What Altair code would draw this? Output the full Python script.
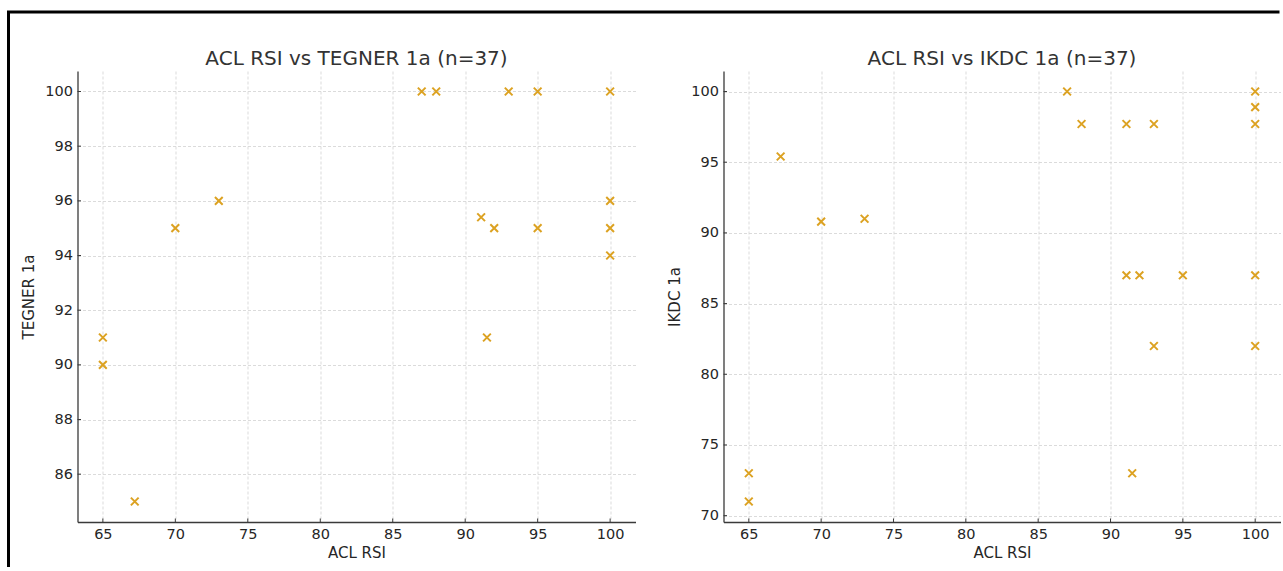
import altair as alt
import pandas as pd

# ---------------- data ----------------
acl_tegner = [87, 88, 93, 95, 100, 73, 70, 91.1, 92, 95, 100, 100, 100, 65, 65, 67.2, 91.5]
tegner = [100, 100, 100, 100, 100, 96, 95, 95.4, 95, 95, 96, 95, 94, 91, 90, 85, 91]

acl_ikdc = [87, 88, 91.1, 93, 100, 100, 100, 67.2, 70, 73, 91.1, 92, 95, 100, 93, 100, 65, 65, 91.5]
ikdc = [100, 97.7, 97.7, 97.7, 100, 98.9, 97.7, 95.4, 90.8, 91, 87, 87, 87, 87, 82, 82, 73, 71, 73]

x_ticks = [65, 70, 75, 80, 85, 90, 95, 100]
tegner_ticks = [86, 88, 90, 92, 94, 96, 98, 100]
ikdc_ticks = [70, 75, 80, 85, 90, 95, 100]

title_left = "ACL RSI vs TEGNER 1a (n=37)"
title_right = "ACL RSI vs IKDC 1a (n=37)"

x_domain = [63.25, 101.75]
tegner_domain = [84.25, 100.75]
ikdc_domain = [69.55, 101.45]

COLOR = "#DCA222"
AXIS_COLOR = "#3a3a3a"
TEXT_COLOR = "#262626"
FONT = "DejaVu Sans"
XSHAPE = "M-1,-1L1,1M-1,1L1,-1"


def panel(acl, score, ytitle, ydomain, yticks, title, W, H, border=False):
    df = pd.DataFrame({"ACL RSI": acl, ytitle: score})
    xs = alt.Scale(domain=x_domain, nice=False, zero=False)
    ys = alt.Scale(domain=ydomain, nice=False, zero=False)
    xaxis = alt.Axis(values=x_ticks, title="ACL RSI", format="d")
    yaxis = alt.Axis(values=yticks, title=ytitle, format="d")

    pts = alt.Chart(df).mark_point(
        shape=XSHAPE, filled=False, size=60, strokeWidth=2, color=COLOR, opacity=1
    ).encode(
        x=alt.X("ACL RSI:Q", scale=xs, axis=xaxis),
        y=alt.Y(f"{ytitle}:Q", scale=ys, axis=yaxis),
    )

    # inward tick marks (matplotlib style)
    xt = alt.Chart(pd.DataFrame({"ACL RSI": x_ticks})).mark_rule(
        color=AXIS_COLOR, strokeWidth=1
    ).encode(
        x=alt.X("ACL RSI:Q", scale=xs, axis=xaxis),
        y=alt.value(H),
        y2=alt.value(H - 3.5),
    )
    yt = alt.Chart(pd.DataFrame({ytitle: yticks})).mark_rule(
        color=AXIS_COLOR, strokeWidth=1
    ).encode(
        y=alt.Y(f"{ytitle}:Q", scale=ys, axis=yaxis),
        x=alt.value(0),
        x2=alt.value(3.5),
    )

    ttl = alt.Chart(pd.DataFrame({"t": [title]})).mark_text(
        font=FONT, fontSize=20, color="#333333", align="center", baseline="alphabetic"
    ).encode(text="t:N", x=alt.value(W / 2), y=alt.value(-6.5))

    layers = [pts, xt, yt, ttl]

    if border:
        one = pd.DataFrame({"a": [0]})
        top = alt.Chart(one).mark_rule(color="black", strokeWidth=3).encode(
            x=alt.value(-70.5), x2=alt.value(1202), y=alt.value(-59)
        )
        left = alt.Chart(one).mark_rule(color="black", strokeWidth=3).encode(
            x=alt.value(-69), y=alt.value(-59), y2=alt.value(496)
        )
        layers += [top, left]

    return alt.layer(*layers).properties(width=W, height=H)


left_chart = panel(acl_tegner, tegner, "TEGNER 1a", tegner_domain, tegner_ticks,
                   title_left, 558, 451, border=True)
right_chart = panel(acl_ikdc, ikdc, "IKDC 1a", ikdc_domain, ikdc_ticks,
                    title_right, 557, 451)

chart = alt.hconcat(left_chart, right_chart, spacing=88, bounds="flush").properties(
    padding={"left": 5.5, "top": 10, "right": 0, "bottom": 0},
    autosize=alt.AutoSizeParams(type="pad"),
    background="white",
).configure_view(
    stroke=None
).configure_axis(
    grid=True,
    gridColor="#d2d2d2",
    gridDash=[3, 2],
    gridWidth=0.8,
    domainColor=AXIS_COLOR,
    domainWidth=1.3,
    ticks=False,
    labelFont=FONT,
    labelFontSize=14.5,
    labelColor=TEXT_COLOR,
    labelPadding=5,
    titleFont=FONT,
    titleFontSize=15,
    titleColor=TEXT_COLOR,
    titleFontWeight="normal",
).configure_axisX(
    titlePadding=4.5
).configure_axisY(
    titlePadding=8
)

chart.save("out.html", embed_options={"renderer": "svg", "actions": False})
